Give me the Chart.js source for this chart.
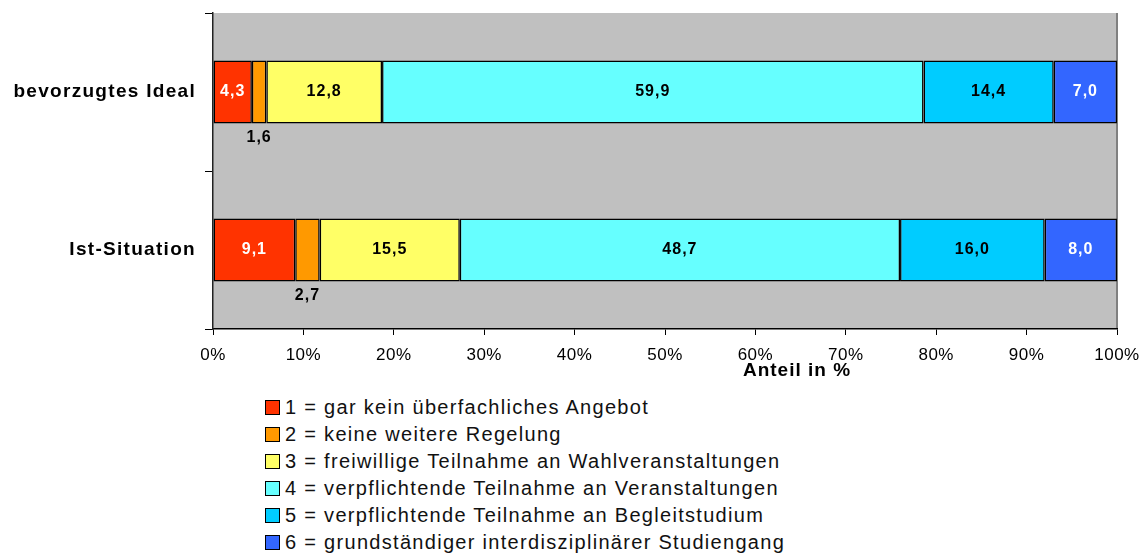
<!DOCTYPE html>
<html>
<head>
<meta charset="utf-8">
<script src="https://cdn.jsdelivr.net/npm/chart.js@4.4.1/dist/chart.umd.min.js"></script>
<style>
  body { margin: 0; background: #fff; font-family: "Liberation Sans", Arial, sans-serif; }
  #wrap { position: relative; width: 1141px; height: 554px; }
  #legend { position: absolute; left: 265px; top: 394px; font-size: 20px; letter-spacing: 1.3px; color: #111; }
  #legend div { height: 27px; line-height: 27px; display: flex; align-items: center; white-space: nowrap; }
  #legend span.box { width: 13px; height: 13px; border: 1px solid #000; margin-right: 5px; display: inline-block; }
</style>
</head>
<body>
<div id="wrap">
  <canvas id="chart" width="1141" height="390"></canvas>
  <div id="legend"></div>
</div>
<script>
const categories = ['bevorzugtes Ideal', 'Ist-Situation'];
const seriesNames = [
  '1 = gar kein überfachliches Angebot',
  '2 = keine weitere Regelung',
  '3 = freiwillige Teilnahme an Wahlveranstaltungen',
  '4 = verpflichtende Teilnahme an Veranstaltungen',
  '5 = verpflichtende Teilnahme an Begleitstudium',
  '6 = grundständiger interdisziplinärer Studiengang'
];
const s1 = [4.3, 9.1];
const s2 = [1.6, 2.7];
const s3 = [12.8, 15.5];
const s4 = [59.9, 48.7];
const s5 = [14.4, 16.0];
const s6 = [7.0, 8.0];
const colors = ['#FF3300', '#FF9900', '#FFFF66', '#66FFFF', '#00CCFF', '#3366FF'];
const labelColors = ['#fff', '#000', '#000', '#000', '#000', '#fff'];
const xTicks = [0, 10, 20, 30, 40, 50, 60, 70, 80, 90, 100];

const series = [s1, s2, s3, s4, s5, s6];
const FONT = '"Liberation Sans", Arial, sans-serif';

const plotBg = {
  id: 'plotBg',
  beforeDraw(chart) {
    const { ctx, chartArea: a } = chart;
    ctx.letterSpacing = '0.5px';
    ctx.save();
    ctx.fillStyle = '#C0C0C0';
    ctx.fillRect(a.left, a.top, a.right - a.left, a.bottom - a.top);
    ctx.strokeStyle = '#808080';
    ctx.lineWidth = 2;
    ctx.beginPath();
    ctx.moveTo(a.right, a.top);
    ctx.lineTo(a.right, a.bottom);
    ctx.stroke();
    ctx.restore();
  }
};

const valueLabels = {
  id: 'valueLabels',
  afterDatasetsDraw(chart) {
    const ctx = chart.ctx;
    const a = chart.chartArea;
    ctx.save();
    ctx.letterSpacing = '1px';
    ctx.font = 'bold 16px ' + FONT;
    ctx.textAlign = 'center';
    ctx.textBaseline = 'middle';
    chart.data.datasets.forEach((ds, i) => {
      chart.getDatasetMeta(i).data.forEach((bar, j) => {
        const txt = ds.data[j].toFixed(1).replace('.', ',');
        const cx = (bar.x + bar.base) / 2;
        if (i === 1) {
          ctx.fillStyle = '#000';
          ctx.fillText(txt, cx, bar.y + bar.height / 2 + 14);
        } else {
          ctx.fillStyle = labelColors[i];
          ctx.fillText(txt, cx, bar.y);
        }
      });
    });
    // category labels
    ctx.fillStyle = '#000';
    ctx.textAlign = 'right';
    ctx.letterSpacing = '1.3px';
    ctx.font = 'bold 19px ' + FONT;
    categories.forEach((c, j) => {
      ctx.fillText(c, a.left - 17, chart.scales.y.getPixelForValue(j));
    });
    // axis title
    ctx.textAlign = 'center';
    ctx.letterSpacing = '1px';
    ctx.font = 'bold 19px ' + FONT;
    ctx.fillText('Anteil in %', chart.scales.x.getPixelForValue(64.6), a.bottom + 42);
    ctx.restore();
  }
};

new Chart(document.getElementById('chart'), {
  type: 'bar',
  data: {
    labels: categories,
    datasets: series.map((d, i) => ({
      label: seriesNames[i],
      data: d,
      backgroundColor: colors[i],
      borderColor: '#000',
      borderWidth: 1.5,
      borderSkipped: false,
      categoryPercentage: 1,
      barPercentage: 0.4
    }))
  },
  options: {
    indexAxis: 'y',
    responsive: false,
    animation: false,
    layout: { padding: { top: 13, right: 24, left: 0, bottom: 0 } },
    plugins: { legend: { display: false }, tooltip: { enabled: false } },
    scales: {
      x: {
        stacked: true,
        min: 0, max: 100,
        afterBuildTicks: (s) => { s.ticks = xTicks.map(v => ({ value: v })); },
        afterFit: (s) => { s.height = 61; s.paddingLeft = 0; s.paddingRight = 0; },
        grid: { drawOnChartArea: false, drawTicks: true, tickLength: 6, color: '#000' },
        border: { color: '#000', width: 1.5 },
        ticks: {
          color: '#000', padding: 10,
          font: { family: FONT, size: 17 },
          callback: (v) => v + '%',
          maxRotation: 0, autoSkip: false
        }
      },
      y: {
        stacked: true,
        afterFit: (s) => { s.width = 213; s.paddingTop = 0; s.paddingBottom = 0; },
        grid: { offset: true, drawOnChartArea: false, drawTicks: true, tickLength: 8, color: '#000' },
        border: { color: '#222', width: 1.5 },
        ticks: { display: false }
      }
    }
  },
  plugins: [plotBg, valueLabels]
});

const legend = document.getElementById('legend');
seriesNames.forEach((name, i) => {
  const row = document.createElement('div');
  row.innerHTML = '<span class="box" style="background:' + colors[i] + '"></span>' + name;
  legend.appendChild(row);
});
</script>
</body>
</html>
